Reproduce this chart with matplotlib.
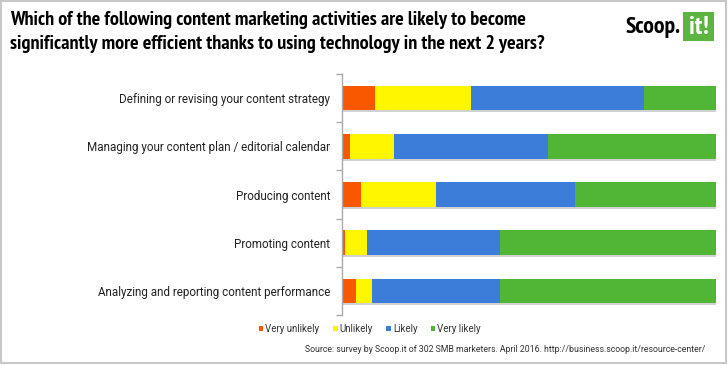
import matplotlib.pyplot as plt
import matplotlib.patheffects as pe
from matplotlib import font_manager
from matplotlib.font_manager import FontProperties
from matplotlib.patches import Rectangle, Patch
import numpy as np

categories = [
    "Defining or revising your content strategy",
    "Managing your content plan / editorial calendar",
    "Producing content",
    "Promoting content",
    "Analyzing and reporting content performance",
]
series_names = ["Very unlikely", "Unlikely", "Likely", "Very likely"]
very_unlikely = [8.8, 2.2, 5.2, 0.8, 3.7]
unlikely = [25.7, 11.7, 20.0, 5.9, 4.4]
likely = [46.3, 41.2, 37.2, 35.6, 34.2]
very_likely = [19.2, 44.9, 37.6, 57.7, 57.7]
colors = ["#F95800", "#FFF600", "#3B7DD8", "#51B535"]

title = ("Which of the following content marketing activities are likely to become\n"
         "significantly more efficient thanks to using technology in the next 2 years?")
source = "Source: survey by Scoop.it of 302 SMB marketers. April 2016. http://business.scoop.it/resource-center/"

# condensed bold face for the title (Helvetica Condensed look-alike)
cond = None
for want in ["PT Sans Narrow", "Roboto Condensed", "Barlow Condensed"]:
    for f in font_manager.fontManager.ttflist:
        if f.name == want and f.weight in (700, "bold") and f.style == "normal":
            cond = f.fname
            break
    if cond:
        break
if cond:
    title_fp = FontProperties(fname=cond, size=13)
else:
    title_fp = FontProperties(family="Liberation Sans", weight="bold", size=13)

W, H = 728, 365
fig = plt.figure(figsize=(W / 100, H / 100), dpi=100)
ax = fig.add_axes([342 / W, 1 - 315 / H, (716 - 342) / W, (315 - 74) / H])

y = np.arange(len(categories))
left = np.zeros(len(categories))
shadow = [pe.SimplePatchShadow(offset=(1, -1.5), shadow_rgbFace="#000000", alpha=0.18), pe.Normal()]
for vals, col in zip([very_unlikely, unlikely, likely, very_likely], colors):
    vals = np.array(vals)
    ax.barh(y, vals, left=left, height=0.51, color=col, edgecolor="none")
    left += vals
for p in ax.patches:
    p.set_path_effects(shadow)

ax.set_xlim(0, left.max())
ax.set_ylim(len(categories) - 0.5, -0.5)
ax.set_yticks(y)
ax.set_yticklabels(categories, fontsize=8.4, family=["Roboto", "DejaVu Sans"], color="#222222")
ax.tick_params(axis="y", which="major", length=0, pad=8.5)
ax.set_yticks(np.arange(-0.5, len(categories)), minor=True)
ax.tick_params(axis="y", which="minor", length=4, width=1, color="#aaaaaa")
ax.set_xticks([])
for s in ["top", "right", "bottom"]:
    ax.spines[s].set_visible(False)
ax.spines["left"].set_color("#aaaaaa")
ax.spines["left"].set_linewidth(1)

handles = [Patch(facecolor=c, edgecolor="none") for c in colors]
fig.legend(handles, series_names, loc="center", bbox_to_anchor=(370 / W, 1 - 329 / H),
           ncol=4, frameon=False, handlelength=0.45, handleheight=0.45, handletextpad=0.2,
           columnspacing=1.4, prop={"family": ["Roboto", "DejaVu Sans"], "size": 7},
           labelcolor="#333333")

t = fig.text(10 / W, 1 - 11 / H, title, ha="left", va="top", fontproperties=title_fp,
             linespacing=1.4, color="black")

fig.text(705 / W, 1 - 350 / H, source, ha="right", va="center", fontsize=6.3,
         family=["Roboto", "DejaVu Sans"], color="#333333")

# logo
logo_fp = title_fp.copy()
logo_fp.set_size(17)
s1 = fig.text(681 / W, 1 - 27 / H, "Scoop.", ha="right", va="center", fontproperties=logo_fp,
              color="black")
fig.patches.append(Rectangle((683 / W, 1 - 41 / H), 31 / W, 29 / H, transform=fig.transFigure,
                             facecolor="#5BB540", edgecolor="none"))
s2 = fig.text(698.5 / W, 1 - 27 / H, "it!", ha="center", va="center", fontproperties=logo_fp,
              color="white")

# fit title width (538 px) and logo word (55 px) to the reference
r = fig.canvas.get_renderer()
w = t.get_window_extent(r).width
t.set_fontsize(13 * 538 / w)
w = s1.get_window_extent(r).width
s1.set_fontsize(17 * 55 / w)
s2.set_fontsize(17 * 55 / w * 1.1)

# frame
fig.patches.append(Rectangle((1 / W, 1 - 363 / H), 725 / W, 362 / H, transform=fig.transFigure,
                             facecolor="none", edgecolor="#c8c8c8", linewidth=1.5))

fig.savefig("out.png", dpi=100)
